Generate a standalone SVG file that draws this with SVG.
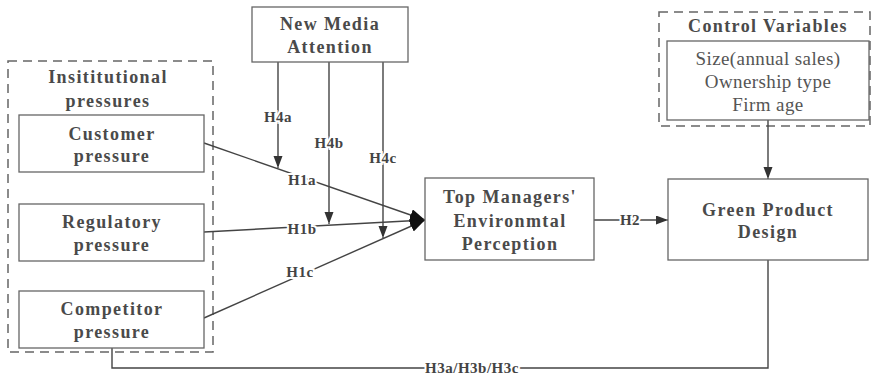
<svg xmlns="http://www.w3.org/2000/svg" width="872" height="378" viewBox="0 0 872 378">
  <style>
    .box { fill: #fff; stroke: #666; stroke-width: 1.3; }
    .dash { fill: none; stroke: #666; stroke-width: 1.5; stroke-dasharray: 9 6; }
    .t { font-family: "Liberation Serif", "Times New Roman", serif; font-weight: bold; font-size: 18px; letter-spacing: 1.4px; fill: #4a4a4a; text-anchor: middle; }
    .r { font-family: "Liberation Serif", "Times New Roman", serif; font-size: 19px; letter-spacing: 0.4px; fill: #555; text-anchor: middle; }
    .lbl { font-family: "Liberation Serif", "Times New Roman", serif; font-weight: bold; font-size: 15px; letter-spacing: 0.5px; fill: #444; text-anchor: middle; stroke: #fff; stroke-width: 4px; paint-order: stroke; }
    .ln { fill: none; stroke: #444; stroke-width: 1.4; }
  </style>
  <defs>
    <marker id="arr" markerWidth="10" markerHeight="14" refX="12" refY="4.5" orient="auto" markerUnits="userSpaceOnUse">
      <path d="M0,0 L12,4.5 L0,9 Z" fill="#333"/>
    </marker>
    <marker id="arrBig" markerWidth="16" markerHeight="14" refX="15" refY="6" orient="auto" markerUnits="userSpaceOnUse">
      <path d="M0,0 L15,6 L0,12 Z" fill="#111"/>
    </marker>
  </defs>
  <rect width="872" height="378" fill="#fff"/>

  <!-- group frames -->
  <rect class="dash" x="8" y="61" width="205" height="291"/>
  <rect class="dash" x="659" y="12" width="211" height="114"/>

  <g id="connectors">
    <line class="ln" x1="204" y1="143" x2="425" y2="220" marker-end="url(#arrBig)"/>
    <line class="ln" x1="204" y1="232" x2="425" y2="220" marker-end="url(#arrBig)"/>
    <line class="ln" x1="204" y1="318" x2="425" y2="220" marker-end="url(#arrBig)"/>
    <line class="ln" x1="278" y1="62" x2="278" y2="168" marker-end="url(#arr)"/>
    <line class="ln" x1="329" y1="62" x2="329" y2="224" marker-end="url(#arr)"/>
    <line class="ln" x1="383" y1="62" x2="383" y2="238" marker-end="url(#arr)"/>
    <line class="ln" x1="594" y1="220" x2="668" y2="220" marker-end="url(#arr)"/>
    <line class="ln" x1="768" y1="120" x2="768" y2="179" marker-end="url(#arr)"/>
    <polyline class="ln" points="112,348 112,368 768,368 768,260"/>
    <text class="lbl" x="278" y="122">H4a</text>
    <text class="lbl" x="329" y="148">H4b</text>
    <text class="lbl" x="383" y="163">H4c</text>
    <text class="lbl" x="302" y="185">H1a</text>
    <text class="lbl" x="302" y="234">H1b</text>
    <text class="lbl" x="300" y="277">H1c</text>
    <text class="lbl" x="630" y="225">H2</text>
    <text class="lbl" x="472" y="373">H3a/H3b/H3c</text>
  </g>

  <g id="institutional">
    <text class="t" x="108" y="83">Insititutional</text>
    <text class="t" x="108" y="107">pressures</text>
  </g>
  <g id="customer">
    <rect class="box" x="19" y="115" width="185" height="57"/>
    <text class="t" x="112" y="140">Customer</text>
    <text class="t" x="112" y="162">pressure</text>
  </g>
  <g id="regulatory">
    <rect class="box" x="19" y="204" width="185" height="57"/>
    <text class="t" x="112" y="228">Regulatory</text>
    <text class="t" x="112" y="251">pressure</text>
  </g>
  <g id="competitor">
    <rect class="box" x="19" y="291" width="185" height="57"/>
    <text class="t" x="112" y="315">Competitor</text>
    <text class="t" x="112" y="338">pressure</text>
  </g>
  <g id="media">
    <rect class="box" x="252" y="7" width="156" height="55"/>
    <text class="t" x="330" y="30">New Media</text>
    <text class="t" x="330" y="53">Attention</text>
  </g>
  <g id="managers">
    <rect class="box" x="425" y="178" width="169" height="82"/>
    <text class="t" x="510" y="203">Top Managers'</text>
    <text class="t" x="510" y="227">Environmtal</text>
    <text class="t" x="510" y="250">Perception</text>
  </g>
  <g id="controls">
    <text class="t" x="768" y="32">Control Variables</text>
    <rect class="box" x="667" y="41" width="202" height="79"/>
    <text class="r" x="768" y="65">Size(annual sales)</text>
    <text class="r" x="768" y="88">Ownership type</text>
    <text class="r" x="768" y="111">Firm age</text>
  </g>
  <g id="green">
    <rect class="box" x="668" y="179" width="200" height="81"/>
    <text class="t" x="768" y="216">Green Product</text>
    <text class="t" x="768" y="238">Design</text>
  </g>
</svg>
